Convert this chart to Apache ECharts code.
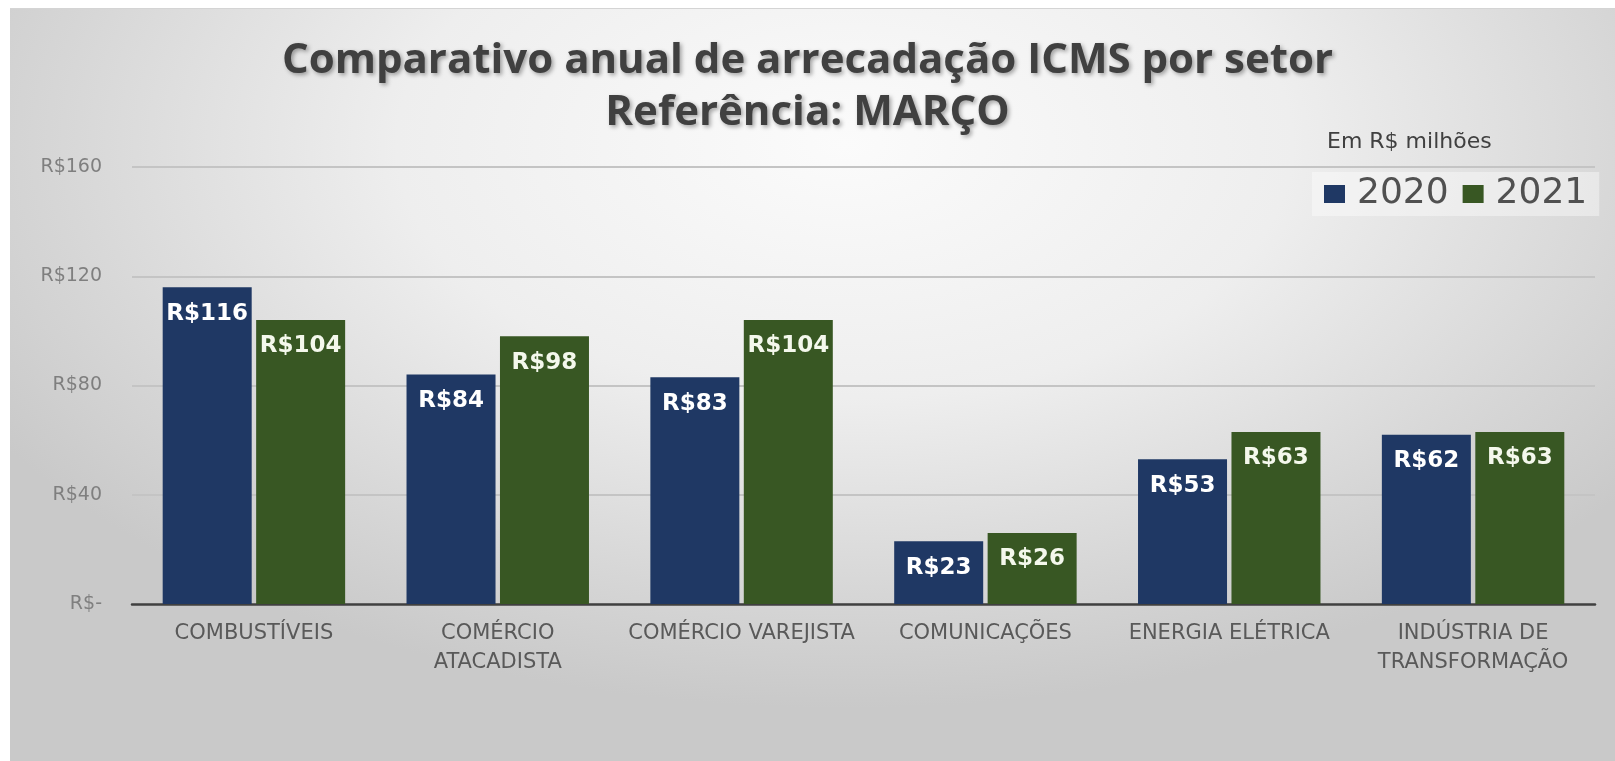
<!DOCTYPE html>
<html>
<head>
<meta charset="utf-8">
<title>Comparativo anual de arrecadação ICMS por setor</title>
<script src="https://cdn.jsdelivr.net/npm/echarts@6/dist/echarts.min.js"></script>
<style>
html, body {
  margin: 0;
  padding: 0;
  background: #fff;
  overflow: hidden;
}
.fundo {
  position: absolute;
  left: 10px;
  top: 8px;
  right: 0;
  bottom: 0;
  border-top: 1px solid #d4d4d4;
  background: radial-gradient(ellipse 62% 75% at 52% 18%, #fbfbfb 0%, #eeeeee 45%, #d6d6d6 80%, #c9c9c9 100%);
}
#chart {
  position: absolute;
  left: 0;
  top: 0;
  width: 1615px;
  height: 761px;
}
</style>
</head>
<body>
<div class="fundo"></div>
<div id="chart"></div>
<script>
// dados (R$ milhoes, marco)
var categorias = ['COMBUSTÍVEIS', 'COMÉRCIO\nATACADISTA', 'COMÉRCIO VAREJISTA', 'COMUNICAÇÕES', 'ENERGIA ELÉTRICA', 'INDÚSTRIA DE\nTRANSFORMAÇÃO']
var valores2020 = [116, 84, 83, 23, 53, 62]
var valores2021 = [104, 98, 104, 26, 63, 63]
var anos = ['2020', '2021']
var eixoY = { min: 0, max: 160, intervalo: 40 }

var corAzul = '#1F3864'
var corVerde = '#385723'

function rotuloBarra (cor) {
  return {
    show: true,
    position: 'insideTop',
    distance: 15,
    formatter: 'R${c}',
    color: cor,
    fontFamily: 'DejaVu Sans',
    fontWeight: 'bold',
    fontSize: 23
  }
}

var chart = echarts.init(document.getElementById('chart'))
chart.setOption({
  backgroundColor: 'transparent',
  animation: false,
  title: [
    {
      text: 'Comparativo anual de arrecadação ICMS por setor\nReferência: MARÇO',
      left: 'center',
      top: 30,
      textStyle: {
        fontFamily: 'Open Sans',
        fontWeight: 'bold',
        fontSize: 42,
        lineHeight: 52,
        color: '#404040',
        textShadowColor: 'rgba(0, 0, 0, 0.35)',
        textShadowBlur: 4,
        textShadowOffsetX: 2,
        textShadowOffsetY: 2
      }
    },
    {
      text: 'Em R$ milhões',
      left: 1322,
      top: 126,
      textStyle: {
        fontFamily: 'DejaVu Sans',
        fontWeight: 'normal',
        fontSize: 22,
        color: '#404040'
      }
    }
  ],
  legend: {
    data: anos,
    left: 1312,
    top: 172,
    padding: [4, 12],
    backgroundColor: 'rgba(255, 255, 255, 0.4)',
    icon: 'rect',
    itemWidth: 21,
    itemHeight: 18,
    itemGap: 14,
    textStyle: {
      fontFamily: 'DejaVu Sans',
      fontSize: 36,
      color: '#505050',
      padding: [0, 0, 0, 7]
    }
  },
  grid: {
    left: 132,
    right: 20,
    top: 167,
    bottom: 157
  },
  xAxis: {
    type: 'category',
    data: categorias,
    axisTick: { show: false },
    axisLine: {
      lineStyle: { color: '#404040', width: 2.5 }
    },
    axisLabel: {
      interval: 0,
      margin: 15,
      fontFamily: 'DejaVu Sans',
      fontSize: 21,
      lineHeight: 29,
      color: '#595959'
    }
  },
  yAxis: {
    type: 'value',
    min: eixoY.min,
    max: eixoY.max,
    interval: eixoY.intervalo,
    axisLine: { show: false },
    axisTick: { show: false },
    splitLine: {
      lineStyle: { color: '#c4c4c4', width: 2 }
    },
    axisLabel: {
      margin: 30,
      fontFamily: 'DejaVu Sans',
      fontSize: 19,
      color: '#7f7f7f',
      formatter: function (v) {
        return v === 0 ? 'R$-' : 'R$' + v
      }
    }
  },
  series: [
    {
      name: anos[0],
      type: 'bar',
      data: valores2020,
      barWidth: 89,
      barGap: '5%',
      itemStyle: { color: corAzul },
      label: rotuloBarra('#ffffff')
    },
    {
      name: anos[1],
      type: 'bar',
      data: valores2021,
      barWidth: 89,
      barGap: '5%',
      itemStyle: { color: corVerde },
      label: rotuloBarra('#f4f8ec')
    }
  ]
})
</script>
</body>
</html>
